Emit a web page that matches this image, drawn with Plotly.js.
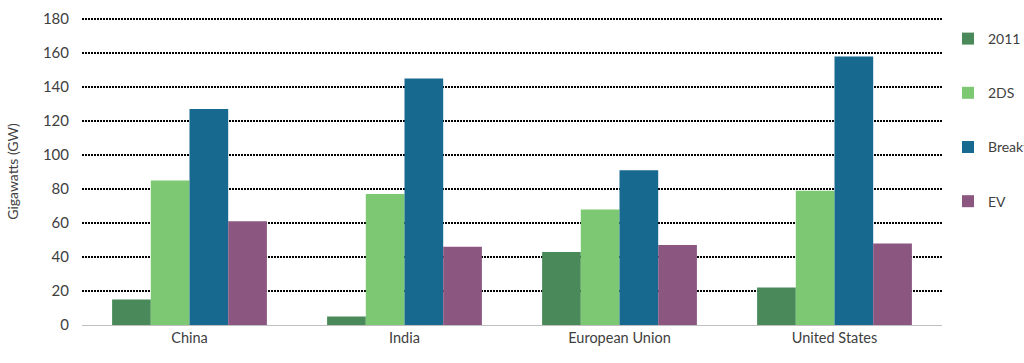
<!DOCTYPE html>
<html>
<head>
<meta charset="utf-8">
<script src="https://cdn.plot.ly/plotly-3.0.1.min.js"></script>
<style>html,body{margin:0;padding:0;background:#fff;}#chart{width:1024px;height:363px;}</style>
</head>
<body>
<div id="chart"></div>
<script>
const regions = ["China", "India", "European Union", "United States"];
const seriesNames = ["2011", "2DS", "Breakthrough", "EV"];
const v2011 = [15, 5, 43, 22];
const v2DS = [85, 77, 68, 79];
const vBreak = [127, 145, 91, 158];
const vEV = [61, 46, 47, 48];
const yTicks = [0, 20, 40, 60, 80, 100, 120, 140, 160, 180];

const colors = ["#4a8a5a", "#7dc873", "#17698f", "#8b5780"];
const values = [v2011, v2DS, vBreak, vEV];
const traces = seriesNames.map((n, i) => ({
  type: "bar", name: n, x: regions, y: values[i],
  marker: {color: colors[i]}, legendgroup: "g" + i,
  hoverinfo: "none"
}));

const layout = {
  width: 1024, height: 363,
  margin: {l: 82, r: 82, t: 18, b: 38},
  paper_bgcolor: "#fff", plot_bgcolor: "#fff",
  font: {family: "Lato, 'Liberation Sans', sans-serif", color: "#404040", size: 14},
  barmode: "group", bargap: 0.28, bargroupgap: 0,
  showlegend: true,
  legend: {xref: "container", yref: "container", x: 948 / 1024, xanchor: "left",
    y: 1 - 23 / 363, yanchor: "top", tracegroupgap: 33, maxheight: 340,
    font: {size: 14, color: "#404040"}, bgcolor: "rgba(0,0,0,0)"},
  xaxis: {showgrid: false, showline: true, linecolor: "#bfbfbf", linewidth: 1,
    ticks: "", tickfont: {size: 14.5, color: "#404040"}, fixedrange: true},
  yaxis: {range: [0, 180.6], tickvals: yTicks, ticktext: yTicks.map(String),
    showgrid: true, gridcolor: "#000", gridwidth: 1.5, griddash: "2px,1px",
    zeroline: false, showline: false, ticks: "", ticklen: 0, ticklabelstandoff: 12,
    tickfont: {size: 15, color: "#404040"},
    title: {text: "Gigawatts (GW)", font: {size: 14, color: "#404040"}, standoff: 20},
    fixedrange: true}
};
Plotly.newPlot("chart", traces, layout, {displayModeBar: false, staticPlot: true});
</script>
</body>
</html>
